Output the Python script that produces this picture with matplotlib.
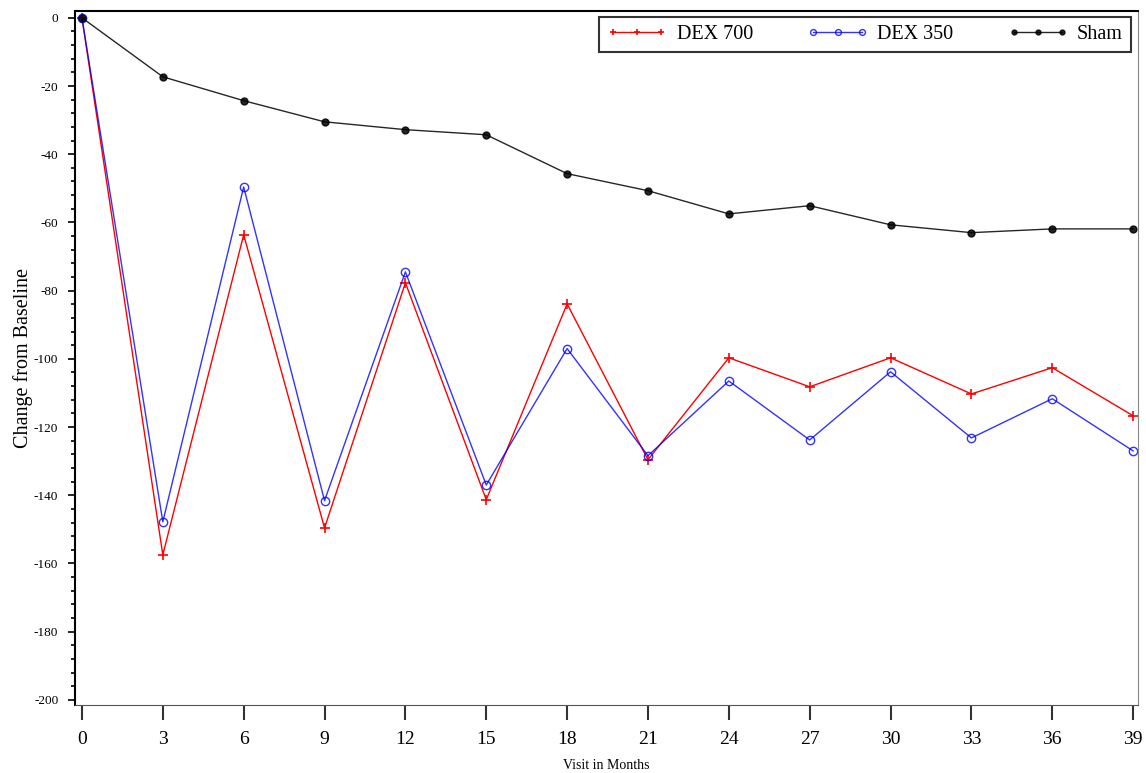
import matplotlib
matplotlib.use('Agg')
import matplotlib.pyplot as plt
from matplotlib.ticker import MultipleLocator

# visit months and mean change from baseline per arm
months = [0, 3, 6, 9, 12, 15, 18, 21, 24, 27, 30, 33, 36, 39]
dex700 = [0, -157.5, -63.6, -149.6, -77.7, -141.3, -83.9, -129.6,
          -99.7, -108.2, -99.7, -110.3, -102.6, -116.7]
dex350 = [0, -147.8, -49.6, -141.6, -74.5, -137.0, -97.0, -128.4,
          -106.5, -123.8, -103.8, -123.2, -111.7, -127.0]
sham = [0, -17.3, -24.3, -30.5, -32.8, -34.3, -45.7, -50.7,
        -57.5, -55.1, -60.7, -63.0, -61.9, -61.9]
yticks = list(range(0, -201, -20))

plt.rcParams['font.family'] = ['Liberation Serif', 'DejaVu Serif']

fig = plt.figure(figsize=(11.46, 7.73), dpi=100)
ax = fig.add_axes([0.0654, 0.088, 0.9276, 0.8978])

ax.plot(months, dex700, color='red', lw=1, marker='+', ms=7, mew=1.2,
        label='DEX 700')
ax.plot(months, dex350, color='blue', lw=1, marker='o', ms=6,
        mfc='none', mew=1, label='DEX 350', alpha=0.8)
ax.plot(months, sham, color='black', lw=1, marker='o', ms=5,
        label='Sham', alpha=0.85)

ax.set_xlim(-0.26, 39.18)
ax.set_ylim(-201.5, 2)
ax.set_xticks(months)
ax.set_xticklabels([str(m) for m in months], fontsize=14)
ax.set_yticks(yticks)
ax.set_yticklabels([str(v) for v in yticks], fontsize=9.5)
ax.yaxis.set_minor_locator(MultipleLocator(4))
ax.tick_params(axis='x', length=11, width=1.5, color='#333333', pad=8)
ax.tick_params(axis='y', which='major', length=5, width=1.2, pad=7)
ax.tick_params(axis='y', which='minor', length=3, width=1.2)

ax.set_xlabel('Visit in Months', fontsize=10, labelpad=8)
ax.set_ylabel('Change from Baseline', fontsize=14.5, labelpad=1)

ax.spines['top'].set_linewidth(1.5)
ax.spines['left'].set_linewidth(1.5)
ax.spines['bottom'].set_color('#555555')
ax.spines['right'].set_color('#888888')

leg = ax.legend(loc='upper left', ncol=3, fontsize=14.5, frameon=True,
                fancybox=False, edgecolor='black', borderpad=0.4,
                borderaxespad=0, handlelength=3.0, handletextpad=0.45,
                columnspacing=1.7, numpoints=3, markerscale=0.7,
                mode='expand', bbox_to_anchor=(0.493, 0.941, 0.5004, 0.0504))
leg.get_frame().set_linewidth(1.5)

fig.savefig('out.png', dpi=100)
